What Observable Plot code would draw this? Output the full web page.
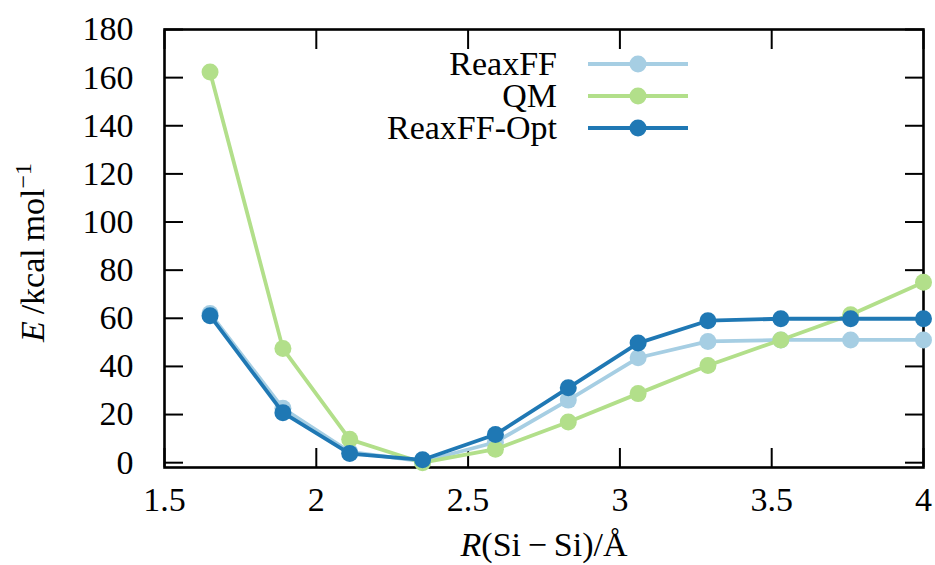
<!DOCTYPE html>
<html><head><meta charset="utf-8">
<script src="https://cdn.jsdelivr.net/npm/d3@7"></script>
<script src="https://cdn.jsdelivr.net/npm/@observablehq/plot@0.6"></script>
<style>
body{margin:0;background:#fff;}
#chart{position:relative;width:935px;height:565px;font-family:"Liberation Serif","Times New Roman",Times,"DejaVu Serif",serif;}
#legend{position:absolute;left:0;top:48px;}
.row{display:flex;align-items:center;height:32px;}
.lab{width:557px;text-align:right;font-size:34px;line-height:32px;color:#000;}
.sw{margin-left:31px;display:block;}
</style></head>
<body><div id="chart"></div>
<script>
// ---- data ----
const distances = [1.65, 1.89, 2.11, 2.35, 2.59, 2.83, 3.06, 3.29, 3.53, 3.76, 4.00];
const reaxff    = [62.0, 22.6, 4.5, 0.5, 8.5, 26.0, 43.6, 50.4, 51.0, 51.0, 51.0];
const qm        = [162.3, 47.4, 9.7, 0.0, 5.6, 16.9, 28.7, 40.4, 51.0, 61.5, 75.0];
const reaxffOpt = [61.1, 20.8, 3.8, 1.2, 11.7, 31.1, 49.7, 59.0, 59.8, 59.8, 59.8];
const seriesNames  = ["ReaxFF", "QM", "ReaxFF-Opt"];
const seriesColors = ["#a6cee3", "#b2df8a", "#1f78b4"];
const xTicks = [1.5, 2, 2.5, 3, 3.5, 4];
const yTicks = [0, 20, 40, 60, 80, 100, 120, 140, 160, 180];
const xLabelParts = [{t: "R", italic: true}, {t: "(Si\u2009\u2212\u2009Si)/\u00C5"}];
const yLabelParts = [{t: "E", italic: true}, {t: "\u2009/kcal\u2009mol"}, {t: "\u22121", sup: true}];

const fontStack = "'Liberation Serif', 'Times New Roman', Times, 'DejaVu Serif', serif";
const seriesValues = [reaxff, qm, reaxffOpt];
const series = seriesValues.map((vals, i) => ({
  name: seriesNames[i], color: seriesColors[i],
  data: distances.map((d, j) => ({r: d, e: vals[j], s: seriesNames[i]}))
}));
const xLabelText = xLabelParts.map(p => p.t).join("");
const yLabelText = yLabelParts.map(p => p.t).join("");
const fmt = d => String(d);

const tickStyle = {tickSize: -19, fill: "none", strokeWidth: 2, label: null};
const plot = Plot.plot({
  width: 935, height: 565,
  marginLeft: 164, marginRight: 12, marginTop: 29, marginBottom: 98,
  style: {fontFamily: fontStack, fontSize: "34px", background: "white", color: "black"},
  x: {domain: [1.5, 4]},
  y: {domain: [-2, 180]},
  marks: [
    Plot.frame({strokeWidth: 2.6}),
    Plot.axisX({...tickStyle, ticks: xTicks, anchor: "bottom"}),
    Plot.axisX({...tickStyle, ticks: xTicks, anchor: "top"}),
    Plot.axisY({...tickStyle, ticks: yTicks, anchor: "left"}),
    Plot.axisY({...tickStyle, ticks: yTicks, anchor: "right"}),
    Plot.axisX({ticks: xTicks, tickFormat: fmt, anchor: "bottom", tickSize: 0, tickPadding: 19, label: null, fontFamily: fontStack}),
    Plot.axisY({ticks: yTicks, tickFormat: fmt, anchor: "left", tickSize: 0, tickPadding: 31, label: null, fontFamily: fontStack}),
    ...series.flatMap(s => [
      Plot.line(s.data, {x: "r", y: "e", stroke: s.color, strokeWidth: 3.8}),
      Plot.dot(s.data, {x: "r", y: "e", r: 8.5, fill: s.color, stroke: "none"})
    ]),
    Plot.text([xLabelText], {frameAnchor: "bottom", dy: 77.6, lineAnchor: "middle", textAnchor: "middle", fontFamily: fontStack}),
    Plot.text([yLabelText], {frameAnchor: "left", dx: -131.6, dy: 4, rotate: -90, lineAnchor: "middle", textAnchor: "middle", fontFamily: fontStack})
  ]
});

// rich text for axis titles
function richify(svg, plain, parts) {
  svg.querySelectorAll("text").forEach(el => {
    if (el.textContent === plain && el.children.length === 0) {
      el.textContent = "";
      parts.forEach(p => {
        const ts = document.createElementNS("http://www.w3.org/2000/svg", "tspan");
        ts.textContent = p.t;
        if (p.italic) ts.setAttribute("font-style", "italic");
        if (p.sup) { ts.setAttribute("font-size", "24px"); ts.setAttribute("dy", "-0.55em"); }
        el.appendChild(ts);
      });
    }
  });
}
richify(plot, xLabelText, xLabelParts);
richify(plot, yLabelText, yLabelParts);

const chart = document.getElementById("chart");
chart.appendChild(plot);

// legend
const legend = d3.select(chart).append("div").attr("id", "legend");
series.forEach(s => {
  const row = legend.append("div").attr("class", "row");
  row.append("div").attr("class", "lab").style("font-family", fontStack).text(s.name);
  const sv = row.append("svg").attr("class", "sw").attr("width", 100).attr("height", 32);
  sv.append("line").attr("x1", 0).attr("x2", 100).attr("y1", 16).attr("y2", 16)
    .attr("stroke", s.color).attr("stroke-width", 3.8).attr("stroke-linecap", "round");
  sv.append("circle").attr("cx", 50).attr("cy", 16).attr("r", 8.5).attr("fill", s.color);
});
</script>
</body></html>
